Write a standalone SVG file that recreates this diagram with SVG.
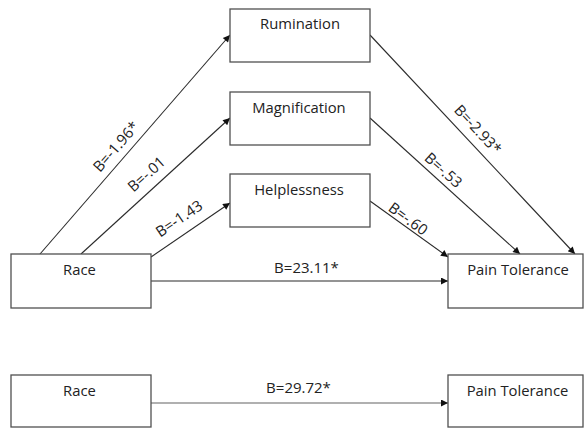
<svg xmlns="http://www.w3.org/2000/svg" width="584" height="429" viewBox="0 0 584 429">
<style>
.box{fill:#fff;stroke:#505050;stroke-width:1.3}
.lbl{font-family:"Open Sans","Liberation Sans",sans-serif;font-size:14.8px;fill:#222;text-anchor:middle}
.elbl{font-family:"Open Sans","Liberation Sans",sans-serif;font-size:15px;fill:#222;text-anchor:middle}
.edge{stroke:#2a2a2a;stroke-width:1.1;fill:none;marker-end:url(#ah)}
.edge2{stroke:#b0b0b0;stroke-width:2;fill:none;marker-end:url(#ah)}
</style>
<defs>
<marker id="ah" viewBox="0 0 10 10" refX="10" refY="5" markerWidth="9" markerHeight="7" markerUnits="userSpaceOnUse" orient="auto">
<path d="M0,0 L10,5 L0,10 z" fill="#111"/>
</marker>
</defs>
<rect width="584" height="429" fill="#fff"/>
<g id="connectors">
<line class="edge" x1="40" y1="254" x2="230" y2="35"/>
<line class="edge" x1="81" y1="254" x2="230" y2="118"/>
<line class="edge" x1="151" y1="257" x2="230" y2="203"/>
<line class="edge" x1="370" y1="35" x2="575" y2="254"/>
<line class="edge" x1="370" y1="118" x2="520" y2="254"/>
<line class="edge" x1="370" y1="201" x2="448" y2="257"/>
<line class="edge" x1="151" y1="281" x2="448" y2="281"/>
<line class="edge2" x1="151" y1="403" x2="448" y2="403"/>
<text class="elbl" transform="translate(120,150) rotate(-49)">B=-1.96*</text>
<text class="elbl" transform="translate(150,178) rotate(-42)">B=-.01</text>
<text class="elbl" transform="translate(182,223) rotate(-34)">B=-1.43</text>
<text class="elbl" transform="translate(474,133) rotate(47)">B=-2.93*</text>
<text class="elbl" transform="translate(440,174) rotate(42)">B=-.53</text>
<text class="elbl" transform="translate(405,223) rotate(36)">B=-.60</text>
<text class="elbl" x="306.5" y="273">B=23.11*</text>
<text class="elbl" x="298.5" y="393">B=29.72*</text>
</g>
<g id="rumination"><rect class="box" x="230" y="9" width="140" height="53"/><text class="lbl" x="300" y="29">Rumination</text></g>
<g id="magnification"><rect class="box" x="230" y="92" width="140" height="53"/><text class="lbl" x="299" y="113">Magnification</text></g>
<g id="helplessness"><rect class="box" x="230" y="174" width="140" height="53"/><text class="lbl" x="299" y="195">Helplessness</text></g>
<g id="race"><rect class="box" x="11" y="254" width="140" height="54"/><text class="lbl" x="79.5" y="275">Race</text></g>
<g id="pain-tolerance"><rect class="box" x="448" y="254" width="135" height="54"/><text class="lbl" x="518" y="275">Pain Tolerance</text></g>
<g id="race-total"><rect class="box" x="11" y="375" width="140" height="52"/><text class="lbl" x="79.5" y="396">Race</text></g>
<g id="pain-tolerance-total"><rect class="box" x="448" y="375" width="135" height="52"/><text class="lbl" x="517.5" y="396">Pain Tolerance</text></g>
</svg>
